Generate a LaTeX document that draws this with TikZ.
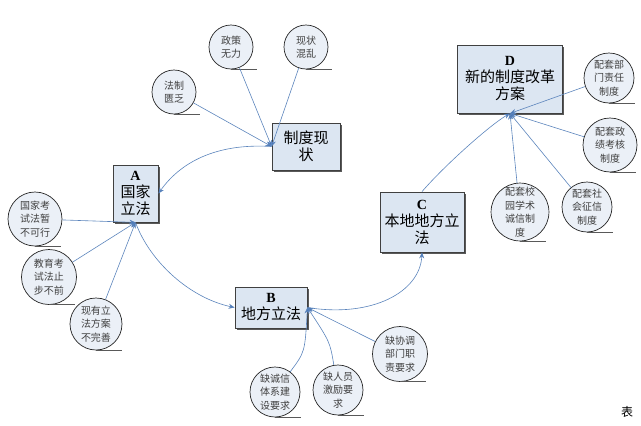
\documentclass[tikz,border=0pt]{standalone}
\usepackage{fontspec}
\newfontfamily\cjk{Noto Sans CJK SC}
\newfontfamily\lat{Liberation Serif}
\usetikzlibrary{arrows.meta,shadows}

\definecolor{boxfill}{HTML}{DCE6F2}
\definecolor{issuefill}{HTML}{EBF0F7}
\definecolor{linkblue}{HTML}{5B84BC}
\definecolor{tipblue}{HTML}{3F72B8}

\newcommand{\tag}[1]{{\lat\bfseries\fontsize{14}{17}\selectfont #1}}

\begin{document}
\begin{tikzpicture}[
x=1pt, y=-1pt,
box/.style={rectangle, draw=black!75, line width=0.8pt, fill=boxfill, inner sep=1pt, align=center,
  font=\cjk\fontsize{15}{17}\selectfont,
  drop shadow={shadow xshift=1.6pt, shadow yshift=-1.6pt, fill=black!65, opacity=1}},
issue/.style={circle, draw=black!85, line width=0.7pt, fill=issuefill, inner sep=0pt, align=center,
  font=\cjk\fontsize{10}{13.5}\selectfont, text=black!75,
  append after command={(\tikzlastnode.south) edge[draw=black!65, line width=1.1pt, -] ([xshift=26pt]\tikzlastnode.south)}},
link/.style={draw=linkblue, line width=0.6pt, -{Stealth[length=6pt, width=5pt, fill=tipblue]}},
flow/.style={link}
]
\useasboundingbox (0,0) rectangle (641,426);

% main boxes
\node[box, minimum width=45pt, minimum height=57pt] (guojia) at (135.5,193.5) {\tag{A}\\国家\\立法};
\node[box, minimum width=68pt, minimum height=47pt] (xianzhuang) at (306,146.5) {制度现\\状};
\node[box, minimum width=72pt, minimum height=41pt] (difang) at (271,307.5) {\tag{B}\\地方立法};
\node[box, minimum width=84pt, minimum height=60pt] (bendi) at (422,222) {\tag{C}\\本地地方立\\法};
\node[box, minimum width=105pt, minimum height=68pt] (xinzhidu) at (510,79) {\tag{D}\\新的制度改革\\方案};

% current situation
\node[issue, minimum size=44pt] (fazhi) at (174,92) {法制\\匮乏};
\node[issue, minimum size=44pt] (zhengce) at (231,47) {政策\\无力};
\node[issue, minimum size=44pt] (hunluan) at (306,47) {现状\\混乱};

% national law
\node[issue, minimum size=54pt] (kaoshi) at (35,219) {国家考\\试法暂\\不可行};
\node[issue, minimum size=55pt] (zhibu) at (49,277) {教育考\\试法止\\步不前};
\node[issue, minimum size=52pt] (fangan) at (96,324) {现有立\\法方案\\不完善};

% local law
\node[issue, minimum size=50pt] (chengxin) at (275,392) {缺诚信\\体系建\\设要求};
\node[issue, minimum size=50pt] (jili) at (338,390) {缺人员\\激励要\\求};
\node[issue, minimum size=55pt] (xietiao) at (400,354) {缺协调\\部门职\\责要求};

% new system
\node[issue, minimum size=50pt] (bumen) at (609,78) {配套部\\门责任\\制度};
\node[issue, minimum size=54pt] (zhengji) at (610,145) {配套政\\绩考核\\制度};
\node[issue, minimum size=52pt] (xiaoyuan) at (520,212) {配套校\\园学术\\诚信制\\度};
\node[issue, minimum size=50pt] (zhengxin) at (587,207) {配套社\\会征信\\制度};

\node[font=\cjk\fontsize{12}{12}\selectfont] (biao) at (627,412) {表};

\draw[link] (fazhi) -- (xianzhuang.west);
\draw[link] (zhengce) -- (xianzhuang.west);
\draw[link] (hunluan) -- (xianzhuang.west);
\draw[flow] (xianzhuang.west) .. controls (215,143) and (180,163) .. (guojia.east);

\draw[link] (kaoshi) -- (guojia.south);
\draw[link] (zhibu) -- (guojia.south);
\draw[link] (fangan) -- (guojia.south);
\draw[flow] (guojia.south) .. controls (150,262) and (190,298) .. (difang.west);

\draw[link] (chengxin) .. controls (305,352) .. (difang.east);
\draw[link] (jili) .. controls (330,342) .. (difang.east);
\draw[link] (xietiao) -- (difang.east);
\draw[flow] (difang.east) .. controls (372,318) and (420,292) .. (bendi.south);

\draw[flow] (bendi.north) .. controls (445,165) and (490,125) .. (xinzhidu.south);
\draw[link] (bumen) -- (xinzhidu.south);
\draw[link] (zhengji) -- (xinzhidu.south);
\draw[link] (xiaoyuan) -- (xinzhidu.south);
\draw[link] (zhengxin) -- (xinzhidu.south);

\end{tikzpicture}
\end{document}
